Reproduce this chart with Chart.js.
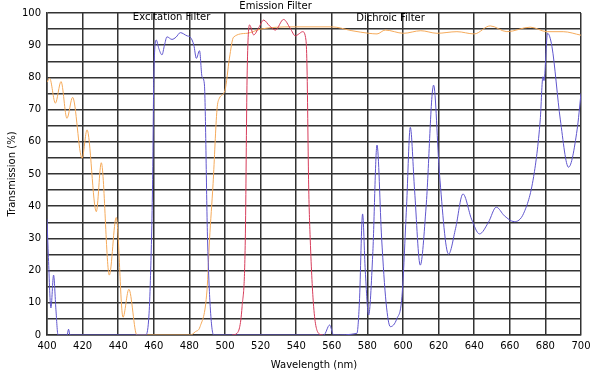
<!DOCTYPE html>
<html>
<head>
<meta charset="utf-8">
<script src="https://cdn.jsdelivr.net/npm/chart.js@4/dist/chart.umd.min.js"></script>
<style>
  body { margin: 0; background: #fff; }
  #wrap { width: 590px; height: 375px; position: relative; }
</style>
</head>
<body>
<div id="wrap"><canvas id="filterChart"></canvas></div>
<script>
// Dichroic filter (laranja)
const dichroicNm = [400, 401.5, 404.7, 407.9, 411.2, 414.4, 419.7, 422.5, 427.7, 430.5, 435, 438.9, 442.7, 446, 450.5,
    480.5, 483.3, 486, 489.9, 491.3, 493.3, 495.5, 496.8, 500, 502.5, 504.8, 512.4, 520, 537.6, 560, 571.3, 580.7,
    585.4, 590, 600.3, 610, 619.1, 630.3, 640, 649, 658.4, 671.5, 681, 690, 700];
const dichroicT = [78.5, 79.7, 72, 78.7, 67.3, 73.8, 54.9, 63.7, 38.3, 53.5, 18.6, 36.5, 5.5, 14.2, 0,
    0, 1, 2.6, 14, 29.5, 47, 70, 73.5, 76, 86, 92.5, 93.7, 95, 95.7, 95.7, 94.5, 93.7,
    93.5, 94.7, 93.7, 94.5, 93.7, 94.2, 93.5, 96, 94.2, 95.6, 94.2, 94.2, 93.1];

// Excitation filter (azul)
const excitationNm = [400, 400.8, 402.2, 403.7, 405, 406.2, 411.3, 412.1, 412.9, 455.5, 457.1, 458, 459.3, 460, 461.4,
    462.8, 464.6, 466, 467.4, 470.2, 472.5, 474.9, 478.7, 480.5, 482.5, 483.9, 485.7, 487.1, 488.4, 490.2, 491.7, 493.6,
    555.5, 558.8, 561, 574.1, 575.5, 577.3, 578.8, 580.7, 583, 585.4, 588, 590.5, 592.9, 596.5, 599.4, 602, 604.1,
    606.5, 609.7, 613, 617.2, 620.5, 625.6, 629.5, 633.7, 638.5, 643, 648, 652.4, 657, 662.5, 667.8, 673.4, 677.1,
    678.6, 679.2, 681.2, 683.7, 688.4, 693, 697.8, 700];
const excitationT = [36, 24, 8.4, 18.6, 8, 0, 0, 1.8, 0, 0, 4.7, 15.5, 46.6, 80, 91.6,
    89, 87, 90, 92.6, 91.8, 92.5, 93.9, 92.9, 92.5, 90, 85.9, 88.3, 80.2, 78, 29.5, 8.8, 0,
    0, 3.1, 0, 0.5, 10, 37.6, 20, 6.2, 25, 59, 30, 10, 2.6, 5, 11.9, 40, 64.5,
    45, 21.7, 40, 77.6, 50, 25.1, 33, 43.8, 36, 31.4, 35, 39.7, 37, 35.2, 37.8, 49.2, 66.8,
    80.2, 79, 93.7, 89.5, 66.8, 52.1, 63.7, 75];

// Emission filter (vermelho)
const emissionNm = [504, 506.7, 509.6, 511.4, 512.4, 513.8, 516.1, 519, 521.7, 525, 528.3, 532.9, 536.7, 539.5,
    541.5, 543.6, 545.5, 546.1, 547, 547.9, 549.8, 552.6, 555];
const emissionT = [0, 0.5, 8.8, 29.5, 79.7, 96.3, 93.2, 95.5, 97.8, 96, 94.7, 98, 95.2, 92.9,
    93.5, 94.2, 91.5, 82.3, 46.6, 29.5, 8.8, 0.5, 0];

const xTicks = [400, 420, 440, 460, 480, 500, 520, 540, 560, 580, 600, 620, 640, 660, 680, 700];

const filterNames = ['Excitation Filter', 'Emission Filter', 'Dichroic Filter'];
const filterNameNm = [470, 528.4, 593];
const filterNameT = [98.5, 102, 98.4];

function pontos(xs, ys) {
    return xs.map((x, i) => ({ x: x, y: ys[i] }));
}

const fonte = { family: 'DejaVu Sans', size: 10 };

// desenha os nomes dos filtros
const nomesPlugin = {
    id: 'nomes',
    afterDraw(chart) {
        const ctx = chart.ctx;
        const xs = chart.scales.x;
        const ys = chart.scales.y;
        ctx.save();
        ctx.font = '10px "DejaVu Sans"';
        ctx.fillStyle = '#000';
        ctx.textAlign = 'center';
        ctx.textBaseline = 'middle';
        filterNames.forEach((t, i) => {
            ctx.fillText(t, xs.getPixelForValue(filterNameNm[i]), ys.getPixelForValue(filterNameT[i]));
        });
        ctx.restore();
    }
};

const ctx = document.getElementById('filterChart').getContext('2d');
const chart = new Chart(ctx, {
    type: 'line',
    data: {
        datasets: [{
            label: 'Emission Filter',
            data: pontos(emissionNm, emissionT),
            borderColor: 'rgb(215, 60, 90)',
        }, {
            label: 'Excitation Filter',
            data: pontos(excitationNm, excitationT),
            borderColor: 'rgb(95, 85, 205)',
        }, {
            label: 'Dichroic Filter',
            data: pontos(dichroicNm, dichroicT),
            borderColor: 'rgb(245, 170, 90)',
        }],
    },
    options: {
        responsive: true,
        maintainAspectRatio: false,
        animation: false,
        layout: { padding: { left: 0, right: 9, top: 13, bottom: 0 } },
        elements: {
            point: { radius: 0 },
            line: { borderWidth: 1, fill: false, cubicInterpolationMode: 'monotone' }
        },
        plugins: {
            legend: { display: false },
            tooltip: { enabled: false }
        },
        scales: {
            x: {
                type: 'linear',
                min: 400,
                max: 700,
                afterBuildTicks: (s) => { s.ticks = xTicks.map(v => ({ value: v })); },
                afterFit: (s) => { s.height = 40; s.paddingRight = 0; s.paddingLeft = 0; },
                ticks: { font: fonte, color: '#000', padding: 5, maxRotation: 0, autoSkip: false },
                grid: { color: '#333', lineWidth: 1.5, drawTicks: false },
                border: { color: '#333', width: 1.5 },
                title: {
                    display: true,
                    text: 'Wavelength (nm)',
                    font: fonte,
                    color: '#000',
                    padding: { top: 2, bottom: 4 }
                }
            },
            y: {
                min: 0,
                max: 100,
                afterFit: (s) => { s.width = 47; s.paddingTop = 0; s.paddingBottom = 0; },
                ticks: {
                    stepSize: 5,
                    font: fonte,
                    color: '#000',
                    padding: 6,
                    callback: (v) => (v % 10 === 0 ? v : '')
                },
                grid: { color: '#333', lineWidth: 1.5, drawTicks: false },
                border: { color: '#333', width: 1.5 },
                title: {
                    display: true,
                    text: 'Transmission (%)',
                    font: fonte,
                    color: '#000',
                    padding: { top: 6, bottom: 2 }
                }
            }
        }
    },
    plugins: [nomesPlugin]
});
</script>
</body>
</html>
